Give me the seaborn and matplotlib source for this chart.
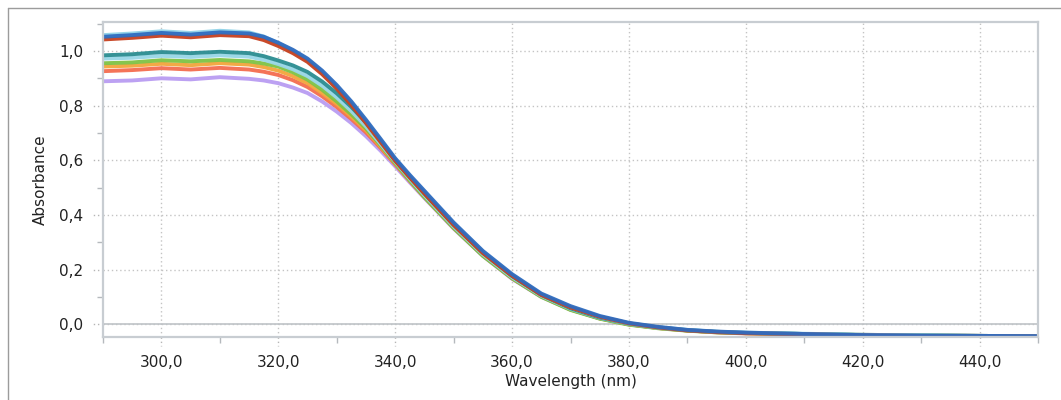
import matplotlib
matplotlib.use("Agg")
import matplotlib.pyplot as plt
from matplotlib.lines import Line2D
from matplotlib.ticker import MultipleLocator, FuncFormatter
import seaborn as sns
import pandas as pd

sns.set_theme(style="white")
plt.rcParams['font.family'] = ['DejaVu Sans']

wavelength = [290, 295, 300, 305, 310, 315, 317.5, 320, 322.5, 325, 327.5, 330, 332.5, 335, 337.5,
              340, 342.5, 345, 350, 355, 360, 365, 370, 375, 380, 385, 390, 395, 400,
              410, 420, 430, 440, 450]

# absorbance per sample
lavender = [0.889, 0.892, 0.900, 0.896, 0.904, 0.898, 0.892, 0.882, 0.866, 0.846, 0.815, 0.778, 0.736, 0.688, 0.635,
            0.578, 0.519, 0.462, 0.350, 0.250, 0.166, 0.100, 0.053, 0.021, -0.001, -0.014, -0.023, -0.029, -0.032,
            -0.036, -0.039, -0.041, -0.043, -0.044]
salmon = [0.926, 0.930, 0.937, 0.932, 0.938, 0.932, 0.924, 0.912, 0.893, 0.868, 0.834, 0.795, 0.751, 0.702, 0.645,
          0.585, 0.524, 0.465, 0.353, 0.252, 0.168, 0.102, 0.054, 0.022, 0.000, -0.014, -0.023, -0.030, -0.034,
          -0.037, -0.042, -0.042, -0.043, -0.045]
orange = [0.943, 0.946, 0.953, 0.948, 0.955, 0.950, 0.941, 0.928, 0.908, 0.882, 0.846, 0.806, 0.760, 0.710, 0.650,
          0.588, 0.526, 0.466, 0.354, 0.253, 0.169, 0.102, 0.054, 0.021, -0.001, -0.014, -0.023, -0.029, -0.033,
          -0.036, -0.040, -0.042, -0.043, -0.044]
green = [0.955, 0.958, 0.966, 0.962, 0.967, 0.962, 0.954, 0.943, 0.922, 0.895, 0.858, 0.815, 0.768, 0.716, 0.655,
         0.590, 0.526, 0.465, 0.352, 0.250, 0.168, 0.100, 0.052, 0.020, -0.002, -0.015, -0.024, -0.030, -0.033,
         -0.036, -0.039, -0.041, -0.043, -0.044]
cyan_low = [0.972, 0.975, 0.982, 0.978, 0.984, 0.979, 0.968, 0.952, 0.933, 0.908, 0.873, 0.830, 0.780, 0.724, 0.660,
            0.595, 0.532, 0.472, 0.358, 0.256, 0.172, 0.104, 0.056, 0.023, 0.001, -0.013, -0.022, -0.029, -0.032,
            -0.036, -0.040, -0.042, -0.043, -0.044]
teal = [0.984, 0.988, 0.996, 0.992, 0.997, 0.992, 0.981, 0.965, 0.947, 0.923, 0.888, 0.845, 0.795, 0.738, 0.670,
        0.600, 0.538, 0.478, 0.364, 0.262, 0.176, 0.107, 0.058, 0.024, 0.002, -0.012, -0.022, -0.028, -0.032,
        -0.036, -0.040, -0.042, -0.043, -0.044]
cyan_high = [1.058, 1.064, 1.072, 1.066, 1.074, 1.068, 1.053, 1.028, 1.000, 0.968, 0.922, 0.868, 0.808, 0.742, 0.672,
             0.603, 0.542, 0.484, 0.368, 0.265, 0.180, 0.109, 0.062, 0.027, 0.003, -0.011, -0.021, -0.028, -0.031,
             -0.035, -0.039, -0.041, -0.043, -0.044]
red = [1.042, 1.048, 1.056, 1.050, 1.058, 1.054, 1.040, 1.018, 0.992, 0.960, 0.915, 0.862, 0.802, 0.736, 0.667,
       0.598, 0.537, 0.478, 0.363, 0.260, 0.177, 0.107, 0.061, 0.027, 0.003, -0.012, -0.023, -0.029, -0.033,
       -0.037, -0.041, -0.043, -0.044, -0.045]
blue = [1.052, 1.058, 1.066, 1.060, 1.068, 1.064, 1.052, 1.030, 1.004, 0.972, 0.928, 0.875, 0.815, 0.748, 0.678,
        0.607, 0.546, 0.488, 0.372, 0.268, 0.183, 0.112, 0.066, 0.030, 0.005, -0.010, -0.021, -0.027, -0.031,
        -0.036, -0.040, -0.042, -0.043, -0.044]

series = {
    "lavender": lavender, "salmon": salmon, "orange": orange, "green": green,
    "cyan_low": cyan_low, "teal": teal, "cyan_high": cyan_high, "red": red, "blue": blue,
}
colors = {
    "lavender": "#b99cf2", "salmon": "#f46d4f", "orange": "#f3a53c", "green": "#7fc244",
    "cyan_low": "#98d6e6", "teal": "#2a8c90", "cyan_high": "#8fd2e8", "red": "#c6401e", "blue": "#2f6cbf",
}

df = pd.concat([pd.DataFrame({"Wavelength": wavelength, "Absorbance": v, "sample": k})
                for k, v in series.items()], ignore_index=True)

fig = plt.figure(figsize=(10.61, 4.0), dpi=100)
ax = fig.add_axes([103 / 1061, 1 - 337 / 400, (1038 - 103) / 1061, (337 - 22) / 400])

sns.lineplot(data=df, x="Wavelength", y="Absorbance", hue="sample", hue_order=list(series),
             palette=colors, linewidth=2.8, legend=False, ax=ax, alpha=0.95)

ax.set_xlim(290, 450)
ax.set_ylim(-0.047, 1.106)
ax.axhline(0, color="#bfc3c7", lw=1.2, zorder=1)

ax.xaxis.set_major_locator(MultipleLocator(20))
ax.xaxis.set_minor_locator(MultipleLocator(10))
ax.yaxis.set_major_locator(MultipleLocator(0.2))
ax.yaxis.set_minor_locator(MultipleLocator(0.1))
comma = FuncFormatter(lambda v, p: f"{v:.1f}".replace(".", ",").replace("-0,0", "0,0"))
ax.xaxis.set_major_formatter(comma)
ax.yaxis.set_major_formatter(comma)

ax.grid(True, which="major", color="#c4c4c4", linestyle=(0, (1, 2)), linewidth=1)
ax.tick_params(which="major", length=0, pad=13, labelsize=11, labelcolor="#222222")
ax.tick_params(axis="y", which="major", pad=14)
ax.tick_params(which="minor", length=4.5, width=1, color="#b5b9bd", bottom=True, left=True)

# dotted extensions of the major grid past the frame
for v in ax.get_xticks():
    if 290 <= v <= 450:
        ax.plot([v, v], [0, -0.03], transform=ax.get_xaxis_transform(), clip_on=False,
                color="#b5b5b5", lw=1, ls=(0, (1, 2)))
for v in ax.get_yticks():
    if -0.047 <= v <= 1.106:
        ax.plot([0, -0.012], [v, v], transform=ax.get_yaxis_transform(), clip_on=False,
                color="#b5b5b5", lw=1, ls=(0, (1, 2)))

for s in ax.spines.values():
    s.set_color("#c8cdd2")
    s.set_linewidth(1.6)

ax.set_xlabel("Wavelength (nm)", fontsize=11, color="#222222", labelpad=3)
ax.set_ylabel("Absorbance", fontsize=11, color="#222222", labelpad=8)

# outer panel border (left and top)
fig.add_artist(Line2D([7.5 / 1061, 7.5 / 1061], [0, 1 - 7.5 / 400], color="#9c9c9c", lw=1))
fig.add_artist(Line2D([7.5 / 1061, 1], [1 - 7.5 / 400, 1 - 7.5 / 400], color="#9c9c9c", lw=1))

fig.savefig("out.png", dpi=100)
